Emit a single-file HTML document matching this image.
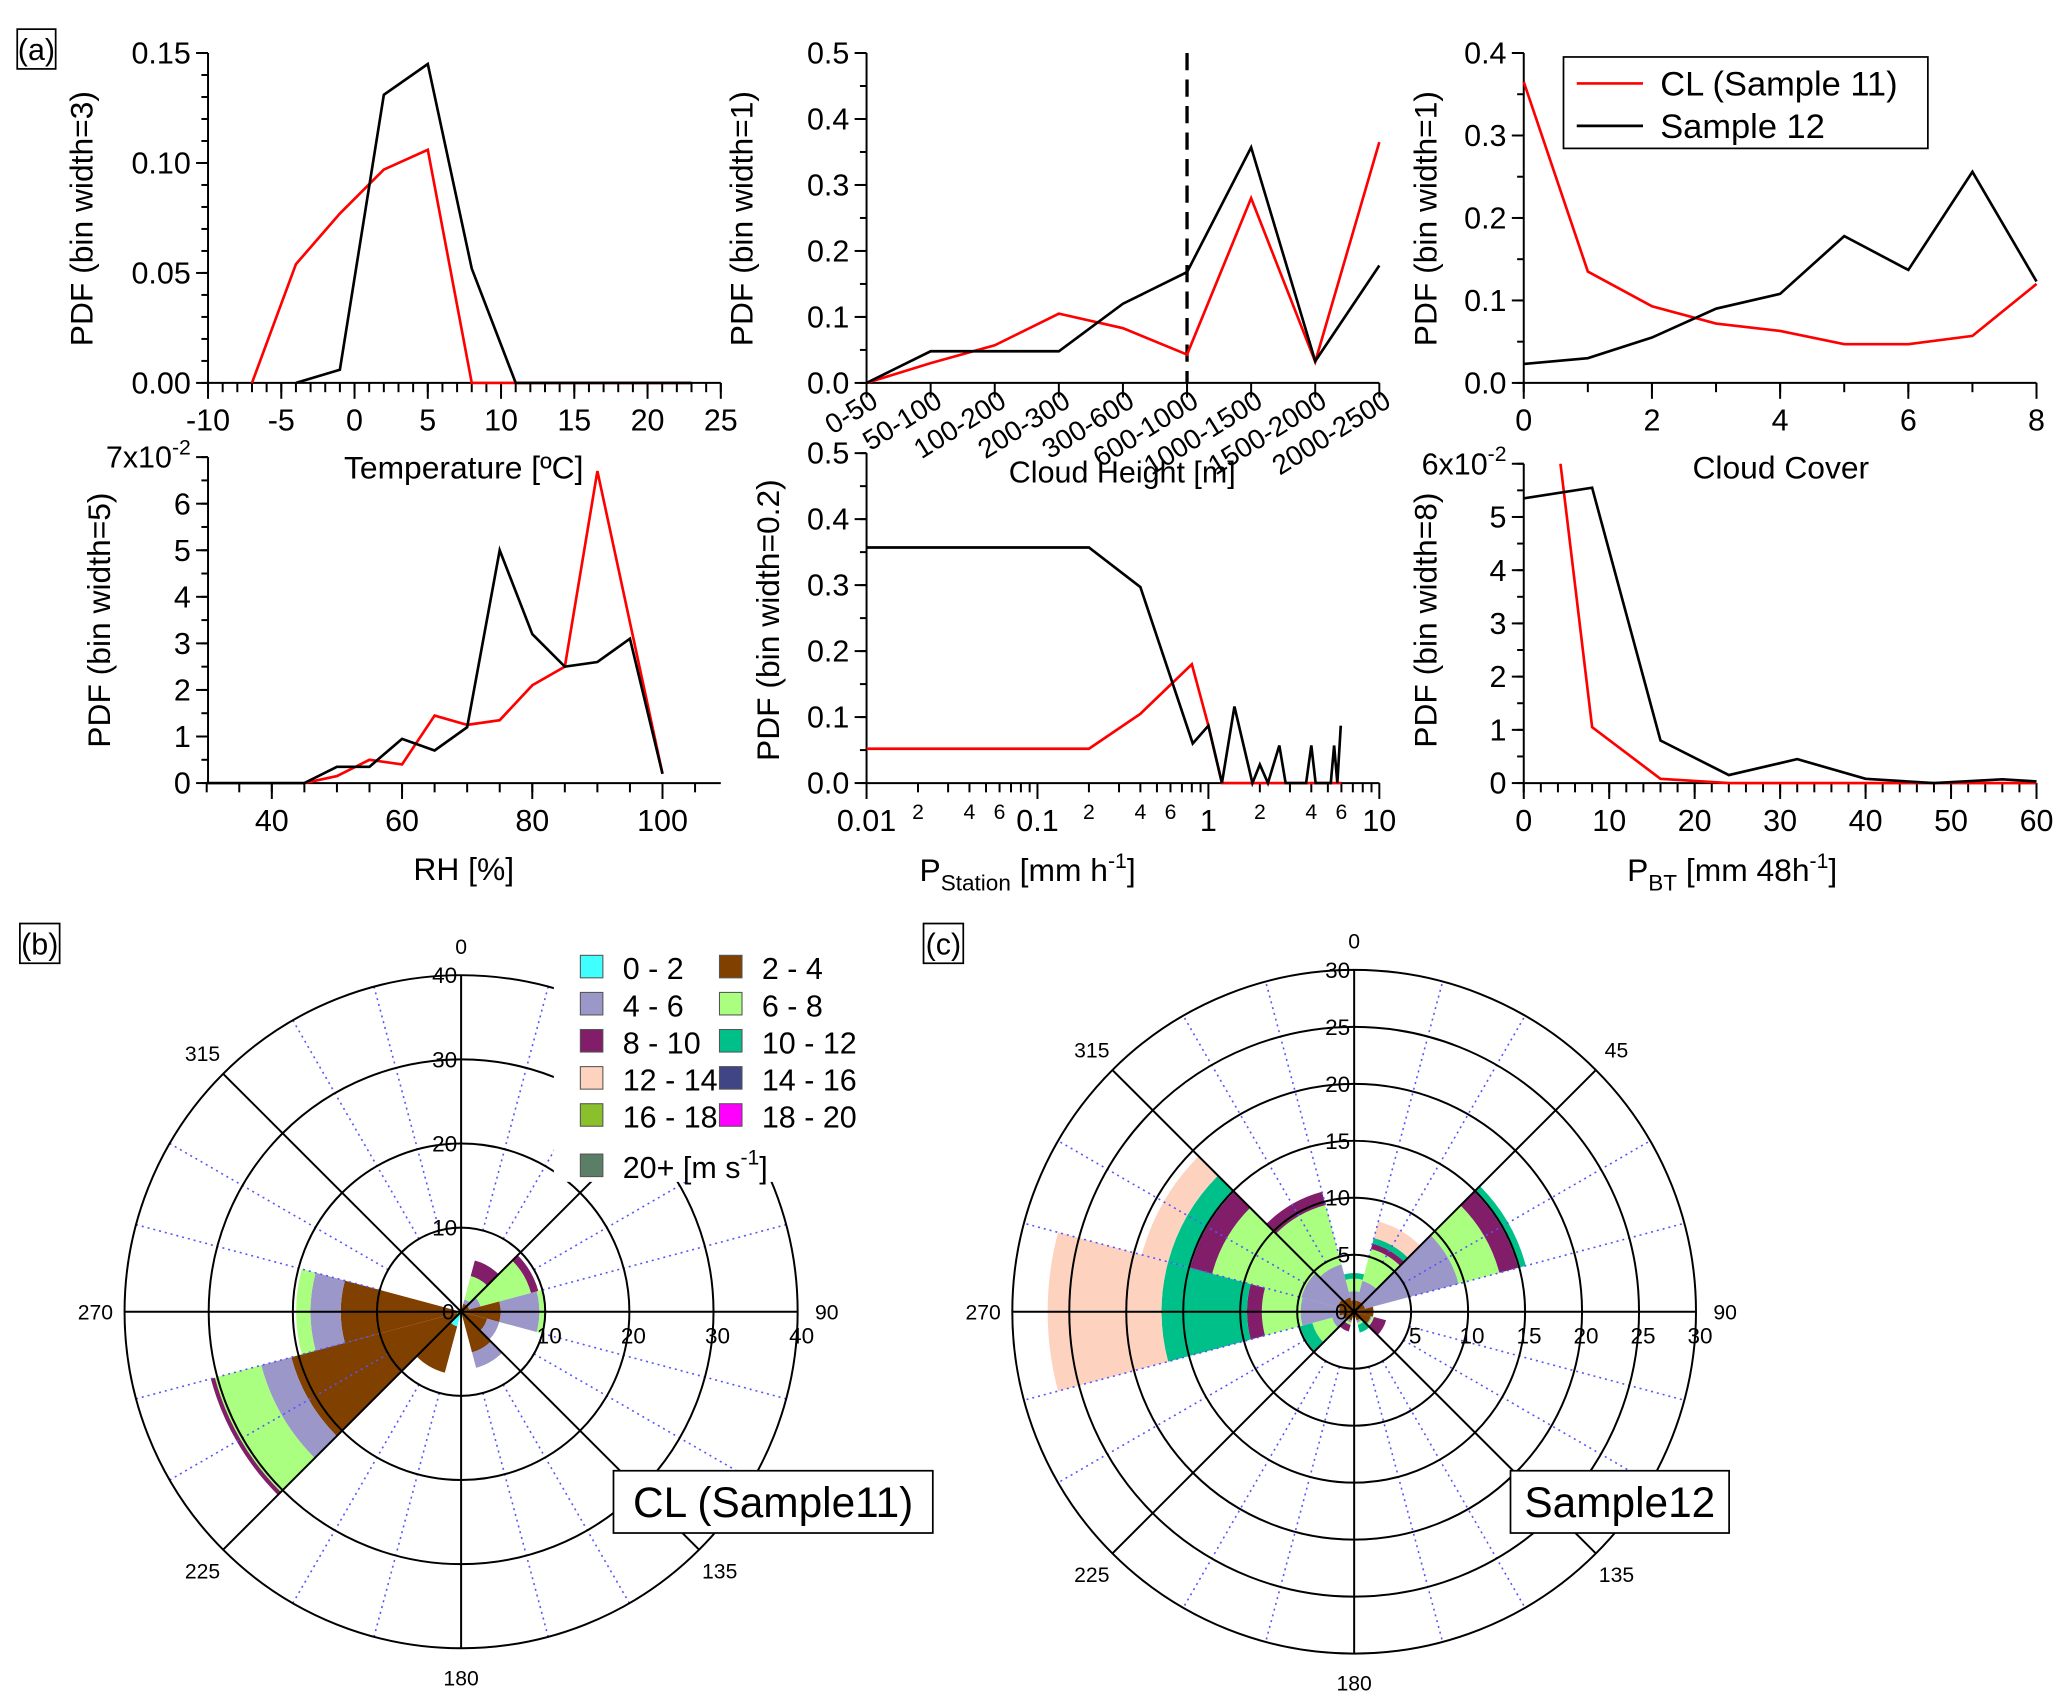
<!DOCTYPE html>
<html><head><meta charset="utf-8"><style>
html,body{margin:0;padding:0;background:#fff;}
svg{display:block;font-family:"Liberation Sans",sans-serif;}
</style></head><body>
<svg id="fig" xmlns="http://www.w3.org/2000/svg" width="2067" height="1694" viewBox="0 0 1560 1278.5">
<rect x="0" y="0" width="1560" height="1278.5" fill="#fff"/>
</svg>
<script>
// ---------- data ----------
const tempX = [-7,-4,-1,2,5,8,11,14,17,20,23];
const tempRed = [0,0.054,0.077,0.097,0.106,0,0,0,0,0,0];
const tempBlackX = [-4,-1,2,5,8,11,14,17,20,23];
const tempBlack = [0,0.006,0.131,0.145,0.052,0,0,0,0,0];
const heightCats = ["0-50","50-100","100-200","200-300","300-600","600-1000","1000-1500","1500-2000","2000-2500"];
const heightRed = [0,0.03,0.057,0.105,0.083,0.043,0.28,0.032,0.365];
const heightBlack = [0,0.048,0.048,0.048,0.12,0.168,0.357,0.033,0.178];
const coverX = [0,1,2,3,4,5,6,7,8];
const coverRed = [0.365,0.135,0.093,0.072,0.063,0.047,0.047,0.057,0.12];
const coverBlack = [0.023,0.03,0.055,0.09,0.108,0.178,0.137,0.256,0.123];
const rhX = [30,35,40,45,50,55,60,65,70,75,80,85,90,95,100];
const rhRed = [null,null,null,0,0.15,0.5,0.4,1.45,1.25,1.35,2.1,2.5,6.7,null,0.2];
const rhBlack = [0,0,0,0,0.35,0.35,0.95,0.7,1.2,5.0,3.2,2.5,2.6,3.1,0.2];
const precRedX = [0.01,0.2,0.4,0.8,1.0,1.2,6];
const precRed = [0.052,0.052,0.105,0.18,0.087,0,0];
const precBlackX = [0.01,0.2,0.4,0.81,1.0,1.2,1.42,1.81,2.0,2.23,2.6,2.83,3.73,4.0,4.24,5.2,5.44,5.68,5.95];
const precBlack = [0.357,0.357,0.297,0.06,0.087,0,0.116,0,0.028,0,0.057,0,0,0.057,0,0,0.057,0,0.087];
const pbtRedX = [4.3,8,16,24,32,40,48,56,60];
const pbtRed = [6.0,1.05,0.08,0,0,0,0,0,0];
const pbtBlackX = [0,8,16,24,32,40,48,56,60];
const pbtBlack = [5.35,5.55,0.8,0.15,0.45,0.08,0,0.07,0.03];
const binLabels = ["0 - 2","2 - 4","4 - 6","6 - 8","8 - 10","10 - 12","12 - 14","14 - 16","16 - 18","18 - 20"];
const binColors = ["#40ffff","#804000","#9b97c9","#aaff80","#821e69","#00c08a","#fdd3c0","#3f4585","#8ac02c","#ff00ff","#5a7f66"];
const roseDirs = [0,30,60,90,120,150,180,210,240,270,300,330];
const roseBCum = [[0.3,0.3,0.3,0.3,0.3],[0.2,1,1.5,4.4,6.3],[0.2,1,2.4,8.6,9.5],[0.2,4.7,9.3,9.9,9.9],[0.3,3.2,4.7,4.7,4.7],[0.3,5,6.9,6.9,6.9],[0.6,0.6,0.6,0.6,0.6],[1.8,7.5,7.5,7.5,7.5],[0.5,20.9,24.6,30.3,30.8],[0.3,14.3,17.9,19.6,19.6],[0.3,0.3,0.3,0.3,0.3],[0.3,0.3,0.3,0.3,0.3]];
const roseCCum = [[0,1,1.8,2.9,2.9,3.4,3.4],[0,1,2.8,5.7,6.2,6.7,8.2],[0,1,9.5,13.2,14.9,15.6,15.6],[0,1.7,1.7,1.7,1.7,1.7,1.7],[0,1.5,1.6,1.8,2.9,2.9,2.9],[0,0.8,1,1.2,1.2,1.9,1.9],[0,0.5,0.5,0.5,0.5,0.5,0.5],[0,0.8,1,1.2,1.8,1.8,1.8],[0,1,2,3.8,3.8,4.9,4.9],[0,1.3,4.7,8.1,9.4,16.9,26.9],[0,1.5,4.8,12.9,14.9,16.9,19.3],[0,1.3,4.3,9.7,10.9,10.9,10.9]];

// ---------- helpers ----------
const svg = document.getElementById('fig');
const NS = "http://www.w3.org/2000/svg";
function mk(tag, attrs, name, parent){
  const el = document.createElementNS(NS, tag);
  for (const k in attrs) el.setAttribute(k, attrs[k]);
  
  
  (parent||svg).appendChild(el);
  return el;
}
function txt(x,y,s,size,name,anchor,extra){
  const t = mk('text', Object.assign({x:x,y:y,'font-size':size,'text-anchor':anchor||'middle',fill:'#000'}, extra||{}), name);
  t.textContent = s;
  return t;
}
function line(x1,y1,x2,y2,name,w,col,extra){
  return mk('line', Object.assign({x1:x1,y1:y1,x2:x2,y2:y2,stroke:col||'#000','stroke-width':w||1.5}, extra||{}), name);
}
function poly(xs, ys, fx, fy, col, name){
  let pts=[];
  for(let i=0;i<xs.length;i++){ if(ys[i]===null||ys[i]===undefined) continue; pts.push(fx(xs[i]).toFixed(2)+','+fy(ys[i]).toFixed(2)); }
  return mk('polyline',{points:pts.join(' '),fill:'none',stroke:col,'stroke-width':2,'stroke-linejoin':'miter'}, name);
}
function lin(d0,d1,r0,r1){ return v => r0 + (v-d0)/(d1-d0)*(r1-r0); }
function box(x,y,w,h,s,size,name){
  mk('rect',{x:x,y:y,width:w,height:h,fill:'#fff',stroke:'#000','stroke-width':1.3}, name+'-box');
  txt(x+w/2,y+h/2+size*0.36,s,size,name);
}
function yAxis(x, y0, y1, fy, majors, minors, fmt, name){
  line(x,y0,x,y1,name+'-line');
  majors.forEach(v=>{ line(x-9,fy(v),x,fy(v),name+'-major-tick'); if(fmt) txt(x-13,fy(v)+8,fmt(v),23,name+'-tick-label','end'); });
  minors.forEach(v=>{ line(x-5,fy(v),x,fy(v),name+'-minor-tick'); });
}
function xAxis(y, x0, x1, fx, majors, minors, fmt, name){
  line(x0,y,x1,y,name+'-line');
  majors.forEach(v=>{ line(fx(v),y,fx(v),y+12,name+'-major-tick'); if(fmt) txt(fx(v),y+36,fmt(v),23,name+'-tick-label'); });
  minors.forEach(v=>{ line(fx(v),y,fx(v),y+7,name+'-minor-tick'); });
}
function range(a,b,s){ const r=[]; for(let v=a; v<=b+1e-9; v+=s) r.push(+v.toFixed(6)); return r; }
function ylabel(x,cy,s,name){ txt(x,cy,s,24,name,'middle',{transform:`rotate(-90 ${x} ${cy})`}); }

// ---------- panel (a) ----------
box(13,22,29,30,"(a)",23,'panel-a-label');

// a1 temperature
{
  const fx = lin(-10,25,157,544), fy = lin(0,0.15,289,40);
  yAxis(157,289,40,fy,[0,0.05,0.1,0.15],range(0,0.15,0.01),v=>v.toFixed(2),'temp-y-axis');
  xAxis(289,157,544,fx,range(-10,25,5),range(-10,25,1),v=>String(v),'temp-x-axis');
  poly(tempX,tempRed,fx,fy,'#ff0000','temp-cl-line');
  poly(tempBlackX,tempBlack,fx,fy,'#000','temp-sample12-line');
  ylabel(70,165,'PDF (bin width=3)','temp-y-title');
  txt(350,361,'Temperature [ºC]',24,'temp-x-title');
}
// a2 cloud height
{
  const fx = i => 654 + i*48.375, fy = lin(0,0.5,289,40);
  yAxis(654,289,40,fy,range(0,0.5,0.1),range(0,0.5,0.05),v=>v.toFixed(1),'height-y-axis');
  line(654,289,1041,289,'height-x-axis-line');
  heightCats.forEach((c,i)=>{
    line(fx(i),289,fx(i),300,'height-x-tick');
    txt(fx(i)+10,306,c,21,'height-x-tick-label','end',{transform:`rotate(-32 ${fx(i)+10} 306)`});
  });
  line(fx(5),40,fx(5),289,'height-threshold-dashed-line',2.5,'#000',{'stroke-dasharray':'13,7'});
  poly(heightCats.map((c,i)=>i),heightRed,fx,fy,'#ff0000','height-cl-line');
  poly(heightCats.map((c,i)=>i),heightBlack,fx,fy,'#000','height-sample12-line');
  ylabel(568,165,'PDF (bin width=1)','height-y-title');
  txt(847,364,'Cloud Height [m]',23,'height-x-title');
}
// a3 cloud cover
{
  const fx = lin(0,8,1150,1537), fy = lin(0,0.4,289,40);
  yAxis(1150,289,40,fy,range(0,0.4,0.1),range(0,0.4,0.05),v=>v.toFixed(1),'cover-y-axis');
  xAxis(289,1150,1537,fx,range(0,8,2),range(0,8,1),v=>String(v),'cover-x-axis');
  poly(coverX,coverRed,fx,fy,'#ff0000','cover-cl-line');
  poly(coverX,coverBlack,fx,fy,'#000','cover-sample12-line');
  ylabel(1084,165,'PDF (bin width=1)','cover-y-title');
  txt(1344,361,'Cloud Cover',24,'cover-x-title');
  mk('rect',{x:1180,y:43,width:275,height:69,fill:'#fff',stroke:'#000','stroke-width':1.3},'legend-box');
  line(1190,63,1240,63,'legend-cl-swatch',2,'#ff0000');
  txt(1253,72,'CL (Sample 11)',26,'legend-cl-label','start');
  line(1190,95,1240,95,'legend-sample12-swatch',2,'#000');
  txt(1253,104,'Sample 12',26,'legend-sample12-label','start');
}
// a4 RH
{
  const fx = lin(30,100,156,500), fy = lin(0,7,591,345);
  yAxis(157,591,345,fy,range(0,6,1),range(0,7,0.5),v=>String(v),'rh-y-axis');
  line(148,345,157,345,'rh-y-top-tick');
  const t = txt(144,353,'7x10',23,'rh-y-exponent-label','end');
  const sp = document.createElementNS(NS,'tspan'); sp.setAttribute('dy','-10'); sp.setAttribute('font-size','16'); sp.textContent='-2';
  
  
  t.appendChild(sp);
  xAxis(591,157,544,fx,range(40,100,20),range(30,105,5),v=>String(v),'rh-x-axis');
  poly(rhX,rhRed,fx,fy,'#ff0000','rh-cl-line');
  poly(rhX,rhBlack,fx,fy,'#000','rh-sample12-line');
  ylabel(83,468,'PDF (bin width=5)','rh-y-title');
  txt(350,664,'RH [%]',24,'rh-x-title');
}
// a5 precipitation station (log)
{
  const fx = v => 654 + (Math.log10(v)+2)*129, fy = lin(0,0.5,591,342);
  yAxis(654,591,342,fy,range(0,0.5,0.1),range(0,0.5,0.05),v=>v.toFixed(1),'pst-y-axis');
  line(654,591,1041,591,'pst-x-axis-line');
  [0.01,0.1,1,10].forEach(v=>{ line(fx(v),591,fx(v),603,'pst-x-major-tick'); txt(fx(v),627,String(v),23,'pst-x-tick-label'); });
  [0.01,0.1,1].forEach(d=>{ for(let m=2;m<=9;m++){ line(fx(d*m),591,fx(d*m),598,'pst-x-minor-tick'); if(m%2===0 && m<=6) txt(fx(d*m),618,String(m),16,'pst-x-minor-label'); } });
  poly(precRedX,precRed,fx,fy,'#ff0000','pst-cl-line');
  poly(precBlackX,precBlack,fx,fy,'#000','pst-sample12-line');
  ylabel(588,468,'PDF (bin width=0.2)','pst-y-title');
  const t = txt(694,665,'P',24,'pst-x-title','start');
  const s1=document.createElementNS(NS,'tspan'); s1.setAttribute('dy','7'); s1.setAttribute('font-size','17'); s1.textContent='Station';
  
  
  t.appendChild(s1);
  const s2=document.createElementNS(NS,'tspan'); s2.setAttribute('dy','-7'); s2.textContent=' [mm h';
  
  
  t.appendChild(s2);
  const s3=document.createElementNS(NS,'tspan'); s3.setAttribute('dy','-10'); s3.setAttribute('font-size','16'); s3.textContent='-1';
  
  
  t.appendChild(s3);
  const s4=document.createElementNS(NS,'tspan'); s4.setAttribute('dy','10'); s4.textContent=']';
  
  
  t.appendChild(s4);
}
// a6 precipitation back trajectory
{
  const fx = lin(0,60,1150,1537), fy = lin(0,6,591,350);
  yAxis(1150,591,350,fy,range(0,5,1),range(0,6,0.5),v=>String(v),'pbt-y-axis');
  line(1141,350,1150,350,'pbt-y-top-tick');
  const t = txt(1137,358,'6x10',23,'pbt-y-exponent-label','end');
  const sp = document.createElementNS(NS,'tspan'); sp.setAttribute('dy','-10'); sp.setAttribute('font-size','16'); sp.textContent='-2';
  
  
  t.appendChild(sp);
  xAxis(591,1150,1537,fx,range(0,60,10),range(0,60,2),v=>String(v),'pbt-x-axis');
  poly(pbtRedX,pbtRed,fx,fy,'#ff0000','pbt-cl-line');
  poly(pbtBlackX,pbtBlack,fx,fy,'#000','pbt-sample12-line');
  ylabel(1084,468,'PDF (bin width=8)','pbt-y-title');
  const t2 = txt(1228,665,'P',24,'pbt-x-title','start');
  const a=document.createElementNS(NS,'tspan'); a.setAttribute('dy','7'); a.setAttribute('font-size','17'); a.textContent='BT';
  
  
  t2.appendChild(a);
  const b=document.createElementNS(NS,'tspan'); b.setAttribute('dy','-7'); b.textContent=' [mm 48h';
  
  
  t2.appendChild(b);
  const c=document.createElementNS(NS,'tspan'); c.setAttribute('dy','-10'); c.setAttribute('font-size','16'); c.textContent='-1';
  
  
  t2.appendChild(c);
  const d=document.createElementNS(NS,'tspan'); d.setAttribute('dy','10'); d.textContent=']';
  
  
  t2.appendChild(d);
}

// ---------- roses ----------
function P(cx,cy,r,deg){ const a=deg*Math.PI/180; return [cx+r*Math.sin(a), cy-r*Math.cos(a)]; }
function wedge(cx,cy,r0,r1,a0,a1,col,name){
  const p1=P(cx,cy,r1,a0), p2=P(cx,cy,r1,a1), p3=P(cx,cy,r0,a1), p4=P(cx,cy,r0,a0);
  const d = `M${p1} A${r1},${r1} 0 0 1 ${p2} L${p3} A${r0},${r0} 0 0 0 ${p4} Z`;
  mk('path',{d:d,fill:col,stroke:'none'},name);
}
function rose(cx,cy,k,maxV,step,cum,prefix,dotStart){
  // sectors
  cum.forEach((arr,di)=>{
    const c = roseDirs[di];
    arr.forEach((v,bi)=>{
      const inner = bi===0?0:arr[bi-1];
      if (v>inner) wedge(cx,cy,inner*k,v*k,c-15,c+15,binColors[bi],prefix+'-sector-'+c+'-bin'+bi);
    });
  });
  // dotted radials
  for(let a=0;a<360;a+=15){ if(a%45===0) continue;
    const p0=P(cx,cy,dotStart*k,a), p1=P(cx,cy,maxV*k,a);
    line(p0[0],p0[1],p1[0],p1[1],prefix+'-dotted-radial',1.2,'#5555ff',{'stroke-dasharray':'1.5,3'});
  }
  // rings
  for(let v=step; v<=maxV+1e-9; v+=step) mk('circle',{cx:cx,cy:cy,r:v*k,fill:'none',stroke:'#000','stroke-width':1.5},prefix+'-ring');
  // solid radials
  for(let a=0;a<360;a+=45){ const p1=P(cx,cy,maxV*k,a); line(cx,cy,p1[0],p1[1],prefix+'-radial-'+a,1.5); }
  // direction labels
  for(let a=0;a<360;a+=45){ const p=P(cx,cy,maxV*k+22,a); txt(p[0],p[1]+6,String(a),16,prefix+'-direction-label'); }
  // radial tick labels
  txt(cx-5,cy+6,'0',17,prefix+'-radial-label-0','end');
  for(let v=step; v<=maxV+1e-9; v+=step){
    txt(cx-3,cy-v*k+6,String(v),17,prefix+'-radial-label-top','end');
    txt(cx+v*k+3,cy+24,String(v),17,prefix+'-radial-label-right');
  }
}
box(15,697,30,30,"(b)",23,'panel-b-label');
box(697,697,30,30,"(c)",23,'panel-c-label');
rose(348,990,6.35,40,10,roseBCum,'rose-b',10);
rose(1022,990,8.6,30,5,roseCCum,'rose-c',5);

// legend for roses (covers part of rose b)
mk('rect',{x:418,y:712,width:275,height:180,fill:'#fff',stroke:'none'},'rose-legend-background');
const legPos = [[438,730],[543,730],[438,758],[543,758],[438,786],[543,786],[438,814],[543,814],[438,842],[543,842]];
binLabels.forEach((s,i)=>{
  const [x,y]=legPos[i];
  mk('rect',{x:x,y:y-9,width:17,height:17,fill:binColors[i],stroke:'#555','stroke-width':0.8},'rose-legend-swatch-'+i);
  txt(x+32,y+9,s,23,'rose-legend-label-'+i,'start');
});
mk('rect',{x:438,y:871,width:17,height:17,fill:binColors[10],stroke:'#555','stroke-width':0.8},'rose-legend-swatch-20plus');
{
  const t = txt(470,889,'20+ [m s',23,'rose-legend-label-20plus','start');
  const s=document.createElementNS(NS,'tspan'); s.setAttribute('dy','-10'); s.setAttribute('font-size','16'); s.textContent='-1';
  
  
  t.appendChild(s);
  const s2=document.createElementNS(NS,'tspan'); s2.setAttribute('dy','10'); s2.textContent=']';
  
  
  t.appendChild(s2);
}
box(463,1110,241,47,"CL (Sample11)",32,'rose-b-title');
box(1140,1110,165,47,"Sample12",32,'rose-c-title');
</script>
</body></html>
